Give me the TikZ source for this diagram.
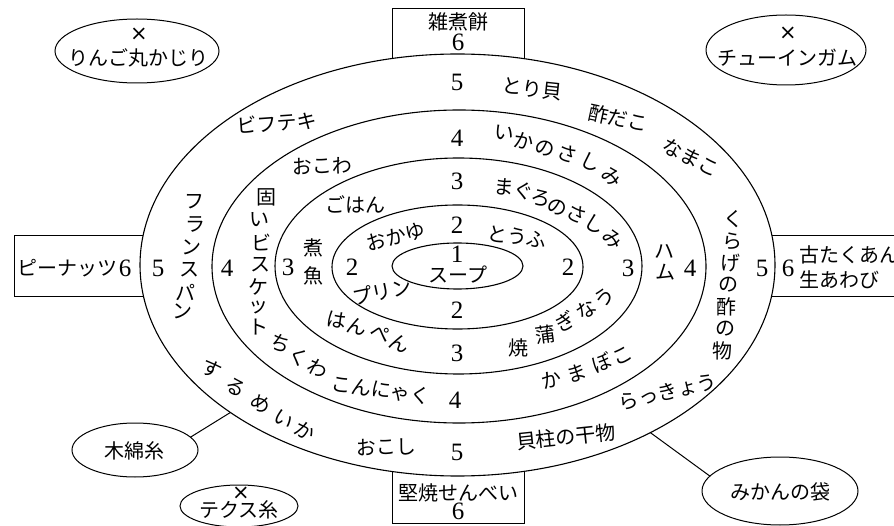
\documentclass[tikz,border=0pt]{standalone}
\usepackage{fontspec}
\newfontfamily\cjk{Noto Sans CJK JP}
\newfontfamily\numfont{Liberation Serif}
\newfontfamily\symfont{DejaVu Sans}
\usetikzlibrary{shapes.geometric}
\tikzset{
 line/.style={line width=1pt},
 ring/.style={ellipse, draw, line width=1.1pt, inner sep=0pt, outer sep=0pt},
 oval/.style={ellipse, draw, line width=1pt, inner sep=0pt, outer sep=0pt},
 boxed/.style={draw, line width=1pt, fill=white, inner sep=0pt, outer sep=0pt},
 jp/.style={font=\cjk\fontsize{20}{24}\selectfont, inner sep=0pt},
 num/.style={font=\numfont\fontsize{25}{28}\selectfont, inner sep=0pt},
 cross/.style={font=\symfont\fontsize{21}{24}\selectfont, inner sep=0pt},
}
\newcommand\charrow[2]{\foreach \x/\y/\r/\c [count=\i] in {#2} {\node[jp,rotate=\r] (#1-\i) at (\x,\y) {\c};}}
\begin{document}
\begin{tikzpicture}[x=1pt,y=-1pt]
\useasboundingbox (0,0) rectangle (894,526);
\clip (0,0) rectangle (894,526);
% boxes
\node[boxed, minimum width=132pt, minimum height=71pt] (btop) at (458,44.5) {};
\node[boxed, minimum width=146pt, minimum height=61pt] (bleft) at (87,266.5) {};
\node[boxed, minimum width=150pt, minimum height=61pt] (bright) at (835,266.5) {};
\node[boxed, minimum width=132pt, minimum height=68pt] (bbot) at (458,489) {};
% rings
\node[ring, fill=white, minimum width=635pt, minimum height=422pt] (r5) at (457.5,265) {};
\node[ring, minimum width=494pt, minimum height=313pt] (r4) at (459,266.5) {};
\node[ring, minimum width=367pt, minimum height=216pt] (r3) at (458.5,266) {};
\node[ring, minimum width=251pt, minimum height=124pt] (r2) at (457.5,267) {};
\node[ring, minimum width=131pt, minimum height=46pt] (r1) at (457.5,266) {};
% outside ovals
\node[oval, minimum width=164pt, minimum height=64pt] (ringo) at (137,51) {};
\node[oval, minimum width=160pt, minimum height=70pt] (gum) at (786,50) {};
\node[oval, minimum width=126pt, minimum height=54pt] (momen) at (135,450) {};
\node[oval, minimum width=118pt, minimum height=42pt] (tex) at (239,506) {};
\node[oval, minimum width=156pt, minimum height=68pt] (mikan) at (780,491) {};
\draw[line] (momen.13) -- (r5.213.9);
\draw[line] (mikan.168) -- (r5.319.1);
% oval texts
\node[cross] (ringo-x) at (139,34) {×};
\node[jp] (ringo-t) at (138,58) {りんご丸かじり};
\node[cross] (gum-x) at (788,33) {×};
\node[jp] (gum-t) at (787,58) {チューインガム};
\node[jp] (momen-t) at (134,451) {木綿糸};
\node[cross] (tex-x) at (241,493) {×};
\node[jp] (tex-t) at (239,510) {テクス糸};
\node[jp] (mikan-t) at (780,492) {みかんの袋};
% box texts
\node[jp] (zoni) at (458,22) {雑煮餅};
\node[num] (zoni6) at (458,42) {6};
\node[jp] (senbei) at (458,493) {堅焼せんべい};
\node[num] (senbei6) at (458,511) {6};
\node[jp] (peanut) at (67,268) {ピーナッツ};
\node[num] (peanut6) at (125,268) {6};
\node[num] (r6) at (788,268) {6};
\node[jp, anchor=west] (takuan) at (799,255) {古たくあん};
\node[jp, anchor=west] (awabi) at (799,280) {生あわび};
% ring digits
\node[num] (d5t) at (457,82) {5};
\node[num] (d5r) at (762,268) {5};
\node[num] (d5b) at (457,452) {5};
\node[num] (d5l) at (158,268) {5};
\node[num] (d4t) at (457,138) {4};
\node[num] (d4r) at (690,268) {4};
\node[num] (d4b) at (455,400) {4};
\node[num] (d4l) at (227,268) {4};
\node[num] (d3t) at (457,181) {3};
\node[num] (d3r) at (628,268) {3};
\node[num] (d3b) at (457,353) {3};
\node[num] (d3l) at (288,267) {3};
\node[num] (d2t) at (457,225) {2};
\node[num] (d2r) at (568,267) {2};
\node[num] (d2b) at (457,310) {2};
\node[num] (d2l) at (352,267) {2};
\node[num] (d1) at (457,254) {1};
\node[jp] (soup) at (458,275) {スープ};
% ring 5
\node[jp,rotate=-6] (toribai) at (532,89) {とり貝};
\node[jp,rotate=-12] (sudako) at (618,118) {酢だこ};
\node[jp,rotate=-27] (namako) at (691,157) {なまこ};
\charrow{kurage}{733/219/0/く,732/241/0/ら,730/263/0/げ,728/285/0/の,726/307/0/酢,725/329/0/の,722/351/0/物}
\node[jp,rotate=13] (rakkyo) at (668,392) {らっきょう};
\node[jp,rotate=6] (kaibashira) at (566,437) {貝柱の干物};
\node[jp,rotate=2] (okoshi) at (386,447) {おこし};
\charrow{surume}{212/369/-25/す,236/387/-30/る,261/404/-33/め,284/420/-35/い,305/431/-30/か}
\node[jp,rotate=4] (bifuteki) at (277,123) {ビフテキ};
\charrow{furansu}{194/202/0/フ,195/224/0/ラ,191/247/0/ン,189/270/0/ス,185/292/0/パ,182/311/0/ン}
% ring 4
\charrow{ika}{504/133/-8/い,524/141/-12/か,545/148/-15/の,567/154/-19/さ,591/162/-25/し,612/177/-32/み}
\charrow{hamu}{664/252/0/ハ,665/272/0/ム}
\charrow{kamaboko}{551/380/14/か,577/373/18/ま,602/363/22/ぼ,623/356/26/こ}
\node[jp,rotate=-8] (konnyaku) at (381,390) {こんにゃく};
\charrow{chikuwa}{280/344/-22/ち,299/357/-26/く,318/369/-28/わ}
\charrow{katai}{266/197/0/固,259/220/0/い,261/242/0/ビ,260/265/0/ス,258/287/0/ケ,258/307/0/ッ,258/327/0/ト}
\node[jp,rotate=2] (okowa) at (322,166) {おこわ};
% ring 3
\charrow{maguro}{504/187/-5/ま,524/191/-10/ぐ,541/199/-15/ろ,557/207/-20/の,577/214/-25/さ,595/224/-30/し,613/239/-38/み}
\charrow{unagi}{604/297/40/う,586/310/35/な,565/322/30/ぎ,545/335/8/蒲,518/348/0/焼}
\charrow{hanpen}{337/320/-10/は,357/327/-13/ん,380/334/-17/ぺ,400/343/-22/ん}
\charrow{nizakana}{313/248/0/煮,313/276/0/魚}
\node[jp] (gohan) at (355,204) {ごはん};
% ring 2
\node[jp,rotate=-8] (tofu) at (517,237) {とうふ};
\node[jp,rotate=12] (purin) at (382,292) {プリン};
\node[jp,rotate=15] (okayu) at (396,237) {おかゆ};
\end{tikzpicture}
\end{document}
